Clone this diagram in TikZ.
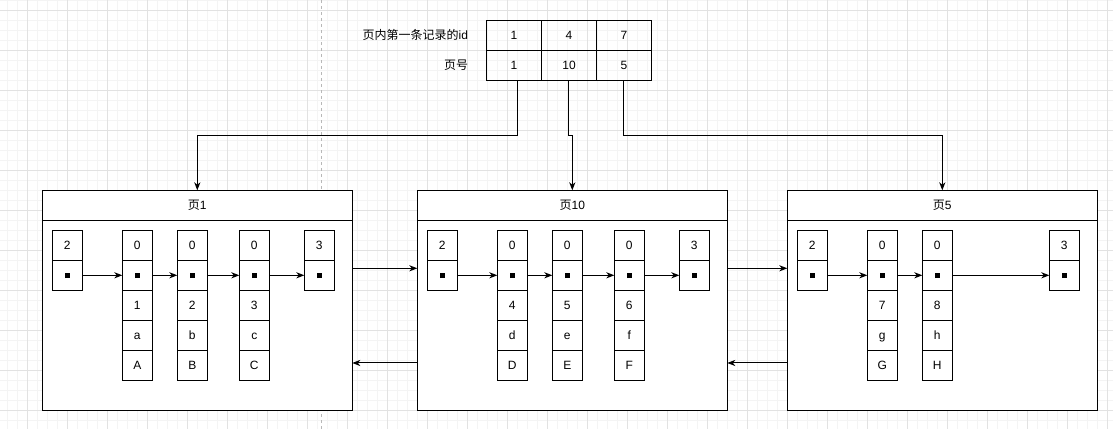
\documentclass[tikz,border=0pt]{standalone}
\usepackage{fontspec}
\setmainfont{Liberation Sans}
\newfontfamily\cjk{Noto Sans CJK SC}
\usetikzlibrary{arrows.meta}
\definecolor{gmaj}{HTML}{E2E2E2}
\definecolor{gmin}{HTML}{F4F4F4}
\definecolor{dashc}{HTML}{B8B8B8}
\newcommand\bul{\rule[1.1pt]{4.2pt}{4.2pt}}
\newcommand\mkhead[3]{%
  \node[cell] (#1a) at (#2,245.3) {#3};
  \node[cell] (#1b) at (#2,275.3) {\bul};}
\newcommand\mkrec[5]{%
  \mkhead{#1}{#2}{0}
  \node[cell] (#1c) at (#2,305.3) {#3};
  \node[cell] (#1d) at (#2,335.3) {#4};
  \node[cell] (#1e) at (#2,365.3) {#5};}
\begin{document}
\begin{tikzpicture}[x=0.75pt,y=-0.75pt,line width=0.75pt,
  every node/.style={font=\fontsize{9}{10}\selectfont,inner sep=0pt,outer sep=0pt},
  cell/.style={draw,minimum width=22.5pt,minimum height=22.5pt,text height=6.5pt,text depth=0pt},
  tcell/.style={draw,minimum width=41.25pt,minimum height=22.5pt,text height=6.5pt,text depth=0pt},
  page/.style={draw,fill=white,minimum width=232.5pt,minimum height=165pt},
  arr/.style={-{Stealth[length=6pt,width=4.6pt,inset=1.8pt]}},
  lbl/.style={anchor=east,text height=6.5pt,text depth=0pt},
]
\useasboundingbox (0,0) rectangle (1113,429);
\fill[white] (0,0) rectangle (1113,429);
% grid
\foreach \i in {0,...,110} \draw[gmin] ({7.3+10*\i},0) -- ++(0,429);
\foreach \i in {0,...,42} \draw[gmin] (0,{0.3+10*\i}) -- ++(1113,0);
\foreach \i in {0,...,27} \draw[gmaj] ({27.3+40*\i},0) -- ++(0,429);
\foreach \i in {0,...,10} \draw[gmaj] (0,{10.3+40*\i}) -- ++(1113,0);
\draw[dashc,dash pattern=on 2.25pt off 2.25pt] (321.7,0) -- (321.7,429);

% top table
\node[tcell] (c11) at (514,35.5) {1};
\node[tcell] (c12) at (569,35.5) {4};
\node[tcell] (c13) at (624,35.5) {7};
\node[tcell] (c21) at (514,65.3) {1};
\node[tcell] (c22) at (569,65.3) {10};
\node[tcell] (c23) at (624,65.3) {5};
\node[lbl] (l1) at (468,35.5) {{\cjk 页内第一条记录的}id};
\node[lbl] (l2) at (468,65.3) {{\cjk 页号}};

% pages
\node[page] (pg1) at (197.3,300.3) {};
\node[page] (pg2) at (572.3,300.3) {};
\node[page] (pg3) at (942.3,300.3) {};
\foreach \p/\t in {pg1/1,pg2/10,pg3/5}{
  \draw ([yshift=-22.5pt]\p.north west) -- ([yshift=-22.5pt]\p.north east);
  \node[text height=6.5pt,text depth=0pt] (\p t) at ([yshift=-11.25pt]\p.north) {{\cjk 页}\t};
}

% page 1
\mkhead{pA}{67.3}{2}
\mkrec{pB}{137.3}{1}{a}{A}
\mkrec{pC}{192.3}{2}{b}{B}
\mkrec{pD}{254.3}{3}{c}{C}
\mkhead{pE}{319.3}{3}
% page 10
\mkhead{qA}{442.3}{2}
\mkrec{qB}{512.3}{4}{d}{D}
\mkrec{qC}{567.3}{5}{e}{E}
\mkrec{qD}{629.3}{6}{f}{F}
\mkhead{qE}{694.3}{3}
% page 5
\mkhead{rA}{812.3}{2}
\mkrec{rB}{882.3}{7}{g}{G}
\mkrec{rC}{937.3}{8}{h}{H}
\mkhead{rE}{1064.3}{3}

% in-page links
\foreach \a/\b in {pA/pB,pB/pC,pC/pD,pD/pE,qA/qB,qB/qC,qC/qD,qD/qE,rA/rB,rB/rC,rC/rE}
  \draw[arr] (\a b.east) -- (\b b.west);

% page links
\draw[arr] ([yshift=24pt]pg1.east) -- ([yshift=24pt]pg2.west);
\draw[arr] ([yshift=24pt]pg2.east) -- ([yshift=24pt]pg3.west);
\draw[arr] ([yshift=-47pt]pg2.west) -- ([yshift=-47pt]pg1.east);
\draw[arr] ([yshift=-47pt]pg3.west) -- ([yshift=-47pt]pg2.east);

% table to pages
\draw[arr] ([xshift=2.4pt]c21.south) |- (197.3,135.3) -- (pg1.north);
\draw[arr] ([xshift=-0.25pt]c22.south) |- (572.3,135.3) -- (pg2.north);
\draw[arr] ([xshift=-0.25pt]c23.south) |- (942.3,135.3) -- (pg3.north);
\end{tikzpicture}
\end{document}
